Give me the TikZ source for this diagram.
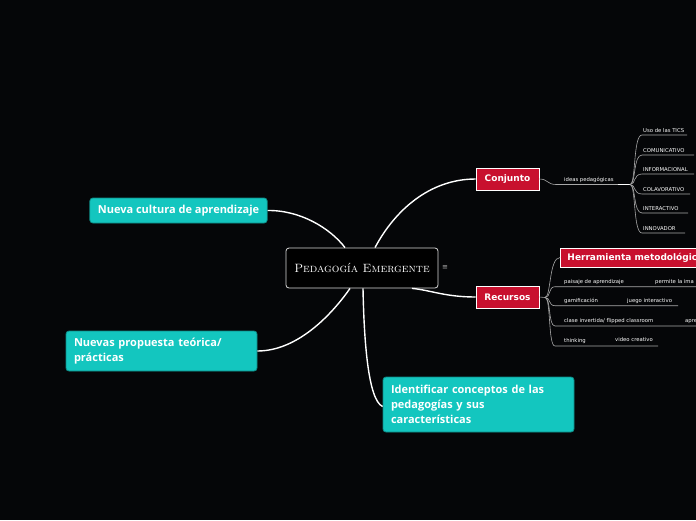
\documentclass[tikz,border=0pt]{standalone}
\usepackage{fontspec}
\newfontfamily\osfam{Open Sans}
\newfontfamily\dvfam{DejaVu Sans}
\definecolor{bgc}{HTML}{050608}
\definecolor{tealc}{HTML}{13C6BF}
\definecolor{tealb}{HTML}{0E8A85}
\definecolor{redc}{HTML}{C8102E}
\definecolor{subc}{HTML}{A8A8A8}
\tikzset{
  ctrbox/.style={draw=white!85!black, line width=0.8pt, fill=black, rounded corners=3pt,
    minimum width=152pt, minimum height=40pt, text=white, inner sep=0pt,
    font=\fontsize{12}{14}\selectfont\scshape},
  redbox/.style={fill=redc, draw=white, line width=0.8pt, minimum width=63pt, minimum height=22pt,
    text=white, inner sep=0pt, font=\dvfam\bfseries\fontsize{9}{11}\selectfont},
  tealbox/.style={fill=tealc, draw=tealb, line width=0.8pt, rounded corners=3pt, text=white,
    inner xsep=8pt, inner ysep=0pt, align=left, font=\osfam\bfseries\fontsize{11}{15}\selectfont},
  smalltxt/.style={text=white, inner sep=0pt, anchor=base west, font=\dvfam\fontsize{5.3}{6}\selectfont},
  conn/.style={draw=white, line width=1.4pt},
  subconn/.style={draw=subc, line width=0.6pt},
}
\begin{document}
\begin{tikzpicture}[x=1pt,y=-1pt]
\useasboundingbox (0,0) rectangle (696,520);
\clip (0,0) rectangle (696,520);
\fill[bgc] (0,0) rectangle (696,520);

% main nodes
\node[ctrbox] (c) at (362,268) {Pedagogía Emergente};
\node[text=white!70!black, inner sep=0pt, font=\dvfam\fontsize{7}{7}\selectfont] (menu) at (445,268) {≡};
\node[redbox] (conj) at (507.5,179) {Conjunto};
\node[redbox] (rec) at (507.5,297) {Recursos};
\node[tealbox, minimum width=177pt, minimum height=25pt] (nc) at (178.5,210.5) {Nueva cultura de aprendizaje};
\node[tealbox, text width=175pt, minimum height=40pt] (np) at (161.5,351) {Nuevas propuesta teórica/\\prácticas};
\node[tealbox, text width=175pt, minimum height=55pt] (id) at (478.5,404.5) {Identificar conceptos de las\\pedagogías y sus\\características};

% main connectors
\draw[conn] (nc.east) .. controls (300,210) and (330,228) .. ([xshift=-17pt]c.north);
\draw[conn] (conj.west) .. controls (430,179) and (395,210) .. ([xshift=13pt]c.north);
\draw[conn] (np.east) .. controls (300,351) and (335,310) .. ([xshift=-12pt]c.south);
\draw[conn] ([yshift=-2pt]id.west) .. controls (368,400) and (364,340) .. ([xshift=1pt]c.south);
\draw[conn] (rec.west) .. controls (445,297) and (430,290) .. ([xshift=50pt]c.south);

% Conjunto branch
\node[smalltxt] (ideas) at (564,181.5) {ideas pedagógicas};
\coordinate (iu0) at (556,184.5);
\coordinate (fan1) at (630,184.5);
\draw[subconn] (conj.east) .. controls (548,179) and (547,184.5) .. (iu0) -- (fan1);
\draw[draw=white, line width=1.6pt] (618,184.5) -- (fan1);
\foreach \y/\e/\t [count=\i] in {135/687/{Uso de las TICS}, 155/694/{COMUNICATIVO}, 174/694/{INFORMACIONAL}, 194/690/{COLAVORATIVO}, 213/688/{INTERACTIVO}, 233/685/{INNOVADOR}}{
  \node[smalltxt] (leaf\i) at (643,\y-3) {\t};
  \draw[subconn] (fan1) .. controls (636,184.5) and (633,\y) .. (642,\y) -- (\e,\y);
}

% Recursos branch
\node[redbox, anchor=west, minimum width=150pt, minimum height=19pt, inner xsep=5pt] (herr) at (560,257.5) {Herramienta metodológica};
\coordinate (fan2) at (545,297.5);
\draw[subconn] (rec.east) -- (fan2);
\draw[subconn] (fan2) .. controls (551,297.5) and (549,257.5) .. (herr.west);
\foreach \y/\e/\t [count=\i] in {286.7/700/{paisaje de aprendizaje}, 305.7/678/{gamificación}, 326/700/{clase invertida/ flipped classroom}, 346/658/{thinking}}{
  \node[smalltxt] (r\i) at (564,\y-3.2) {\t};
  \draw[subconn] (fan2) .. controls (551,297.5) and (548,\y) .. (555,\y) -- (\e,\y);
}
\node[smalltxt] (r1b) at (655,283.2) {permite la ima};
\node[smalltxt] (r2b) at (627,302) {juego interactivo};
\node[smalltxt] (r3b) at (685,322.6) {apre};
\node[smalltxt] (r4b) at (615,341.8) {video creativo};
\end{tikzpicture}
\end{document}
